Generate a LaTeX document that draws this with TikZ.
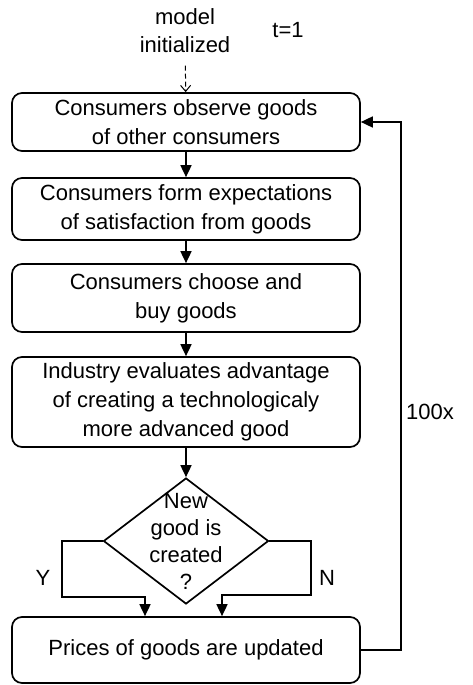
\documentclass[tikz,border=0pt]{standalone}
\usepackage{fontspec}
\setmainfont{Liberation Sans}
\usetikzlibrary{shapes.geometric,arrows.meta}

\begin{document}
\begin{tikzpicture}[x=1pt,y=-1pt,
    >={Triangle[length=12pt,width=11pt]},
    font=\fontsize{22}{29}\selectfont,
    stage/.style={shape=rectangle,draw,rounded corners=10pt,line width=1.7pt,
                  minimum width=348pt,align=center,inner sep=0pt},
    choice/.style={shape=diamond,draw,line width=1.7pt,
                   minimum width=165pt,minimum height=126pt,inner sep=0pt},
    flow/.style={->,line width=1.7pt},
    start/.style={-{Straight Barb[length=6pt,width=10pt]},line width=1pt,
                  dash pattern=on 5pt off 3pt,shorten <=9pt}]

  \useasboundingbox (0,0) rectangle (473,685);

  \node (init) at (185,31) [align=center, font=\fontsize{22}{28}\selectfont] {model\\initialized};
  \node (time) at (288,30) {t=1};

  \node (b1) at (186,122) [stage,minimum height=58pt] {Consumers observe goods\\of other consumers};
  \node (b2) at (186,209) [stage,minimum height=62pt] {Consumers form expectations\\of satisfaction from goods};
  \node (b3) at (186,298) [stage,minimum height=68pt] {Consumers choose and\\buy goods};
  \node (b4) at (186,402) [stage,minimum height=90pt] {Industry evaluates advantage\\of creating a technologicaly\\more advanced good};
  \node (dec) at (186,541) [choice] {};
  \node (dectext) at (dec.center) [align=center, font=\fontsize{22}{27}\selectfont] {New\\good is\\created\\?};
  \node (b5) at (186,650) [stage,minimum height=66pt] {Prices of goods are updated};

  \draw [start] (init) -- (b1);
  \draw [flow] (b1) -- (b2);
  \draw [flow] (b2) -- (b3);
  \draw [flow] (b3) -- (b4);
  \draw [flow] (b4) -- (dec);

  \coordinate (yturn) at (62,597);
  \coordinate (nturn) at (311,595);
  \draw [flow] (dec.west) -| (yturn) -| ([xshift=-41pt]b5.north);
  \draw [flow] (dec.east) -| (nturn) -| ([xshift=36pt]b5.north);
  \draw [flow] (b5.east) -- ++(40,0) |- (b1.east);

  \node (yes) at (43,578) {Y};
  \node (no) at (327,578) {N};
  \node (times) at (430,412) {100x};
\end{tikzpicture}
\end{document}
